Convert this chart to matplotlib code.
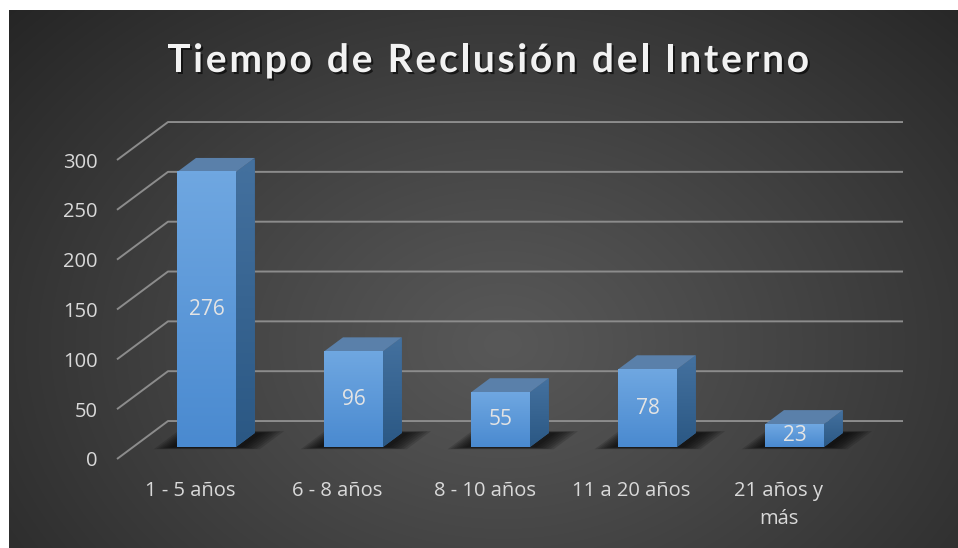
import numpy as np
import matplotlib.pyplot as plt
from matplotlib.colors import LinearSegmentedColormap
from matplotlib.patches import Polygon
import matplotlib.patheffects as pe

# data
categories = ['1 - 5 años', '6 - 8 años', '8 - 10 años', '11 a 20 años', '21 años y\nmás']
values = [276, 96, 55, 78, 23]
yticks = [0, 50, 100, 150, 200, 250, 300]
title = 'Tiempo de Reclusión del Interno'

W, H = 958, 548
fig = plt.figure(figsize=(W / 100, H / 100), dpi=100, facecolor='white')

# dark radial background panel
bg = fig.add_axes([9 / W, 0, 949 / W, 538 / H])
bg.set_axis_off()
ph, pw = 538, 949
yy, xx = np.mgrid[0:ph, 0:pw]
r = np.sqrt(((xx - 0.52 * pw) / (0.72 * pw)) ** 2 + ((yy - 0.62 * ph) / (0.95 * ph)) ** 2)
shade = 88 - 52 * np.clip(r, 0, 1) ** 1.1
img = np.dstack([shade, shade, shade]) / 255.0
bg.imshow(img, aspect='auto', interpolation='bilinear')

# main axes = front plane of the 3d box
ax = fig.add_axes([117 / W, 89 / H, 735 / W, 299 / H])
ax.patch.set_alpha(0)
for s in ax.spines.values():
    s.set_visible(False)

DX = 51 / 147      # depth offset in category units
DY = 38.1          # depth offset in value units


def proj(x, y, d):
    return (x + d * DX, y + d * DY)


grid_c = '#8c8c8c'
for v in yticks:
    a, b = proj(-0.5, v, 0), proj(-0.5, v, 1)
    c = proj(4.5, v, 1)
    ax.plot([a[0], b[0], c[0]], [a[1], b[1], c[1]], color=grid_c, lw=1.4,
            clip_on=False, zorder=1, solid_capstyle='butt')

w = 0.40
d0, d1 = 0.316, 0.684
front_cmap = LinearSegmentedColormap.from_list('front', ['#4a8ad0', '#6fa7e1'])
side_cmap = LinearSegmentedColormap.from_list('side', ['#2b5884', '#44719f'])
grad = np.linspace(0, 1, 64).reshape(-1, 1)
lab_font = ['Open Sans', 'DejaVu Sans']

for i, v in enumerate(values):
    xl, xr = i - w / 2, i + w / 2
    # soft shadow on the floor
    for k in range(7):
        f = 1 - k / 7
        ex = 0.02 + 0.12 * f
        pts = [proj(xl - ex, 0, d0 - 0.06 * f), proj(xr + ex * 1.3, 0, d0 - 0.06 * f),
               proj(xr + ex * 1.3, 0, d1 + 0.05 * f), proj(xl - ex, 0, d1 + 0.05 * f)]
        ax.add_patch(Polygon(pts, closed=True, facecolor='black', edgecolor='none',
                             alpha=0.14, clip_on=False, zorder=2))
    # side face
    side = [proj(xr, 0, d0), proj(xr, 0, d1), proj(xr, v, d1), proj(xr, v, d0)]
    sp = Polygon(side, closed=True, facecolor='#3a6694', edgecolor='none',
                 clip_on=False, zorder=3)
    ax.add_patch(sp)
    sx = [p[0] for p in side]
    sy = [p[1] for p in side]
    im = ax.imshow(grad, extent=(min(sx), max(sx), min(sy), max(sy)), origin='lower',
                   cmap=side_cmap, aspect='auto', zorder=3.1, interpolation='bilinear')
    im.set_clip_path(sp)
    # top face
    top = [proj(xl, v, d0), proj(xr, v, d0), proj(xr, v, d1), proj(xl, v, d1)]
    ax.add_patch(Polygon(top, closed=True, facecolor='#5a80aa', edgecolor='none',
                         clip_on=False, zorder=3.2))
    # front face
    fx0, fy0 = proj(xl, 0, d0)
    fx1, fy1 = proj(xr, v, d0)
    ax.imshow(grad, extent=(fx0, fx1, fy0, fy1), origin='lower', cmap=front_cmap,
              aspect='auto', zorder=4, interpolation='bilinear', clip_on=False)
    ax.text((fx0 + fx1) / 2, (fy0 + fy1) / 2, str(v), ha='center', va='center',
            fontsize=15, color='#e4e4e4', family=lab_font, zorder=5)

ax.set_xlim(-0.5, 4.5)
ax.set_ylim(0, 300)
ax.set_yticks(yticks)
ax.set_yticklabels([str(t) for t in yticks])
ax.set_xticks(range(len(categories)))
ax.set_xticklabels(categories, linespacing=1.55)
ax.tick_params(axis='y', length=0, pad=14, labelsize=14.5, labelcolor='#d9d9d9')
ax.tick_params(axis='x', length=0, pad=16, labelsize=14.5, labelcolor='#d9d9d9')
for lab in ax.get_xticklabels() + ax.get_yticklabels():
    lab.set_family(lab_font)

# letter-spaced title, drawn char by char
renderer = fig.canvas.get_renderer()
tfont = dict(fontsize=28, fontweight='bold', color='#f2f2f2',
             family=['Lato', 'DejaVu Sans'])
widths = []
for ch in title:
    if ch == ' ':
        t = fig.text(0, 0, 'x x', **tfont)
        w_all = t.get_window_extent(renderer).width
        t.remove()
        t = fig.text(0, 0, 'xx', **tfont)
        widths.append(w_all - t.get_window_extent(renderer).width)
        t.remove()
    else:
        t = fig.text(0, 0, ch, **tfont)
        widths.append(t.get_window_extent(renderer).width)
        t.remove()
x_start, x_end = 167, 809
gap = (x_end - x_start - sum(widths)) / (len(title) - 1)
xpos = x_start
shadow = [pe.withSimplePatchShadow(offset=(1.5, -1.5), shadow_rgbFace='black', alpha=0.6)]
for ch, cw in zip(title, widths):
    if ch != ' ':
        fig.text(xpos / W, 1 - 72 / H, ch, ha='left', va='baseline',
                 path_effects=shadow, **tfont)
    xpos += cw + gap

fig.savefig('out.png', dpi=100, facecolor=fig.get_facecolor())
